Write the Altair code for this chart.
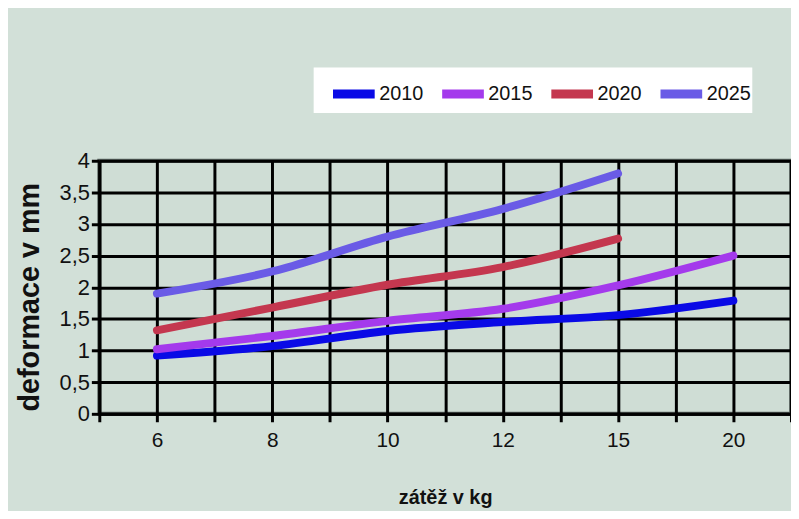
import altair as alt
import pandas as pd

categories = ["6", "8", "10", "12", "15", "20"]
years = ["2010", "2015", "2020", "2025"]
v2010 = [0.92, 1.07, 1.31, 1.45, 1.56, 1.79]
v2015 = [1.02, 1.23, 1.47, 1.66, 2.03, 2.50]
v2020 = [1.32, 1.68, 2.04, 2.32, 2.77, None]
v2025 = [1.90, 2.25, 2.80, 3.24, 3.80, None]
colors = ["#0a0ae6", "#a43aec", "#c4374f", "#6a5be6"]

rows = []
for yr, vals in zip(years, [v2010, v2015, v2020, v2025]):
    for i, (c, v) in enumerate(zip(categories, vals)):
        if v is not None:
            rows.append({"idx": i, "zatez": c, "rok": yr, "deformace": v})
df = pd.DataFrame(rows)

label_arr = "[" + ",".join("'%s'" % c for c in categories) + "]"
x_ticks = [i * 0.5 - 0.5 for i in range(2 * len(categories) + 1)]

sans = "Liberation Sans, Arial, sans-serif"

chart = alt.Chart(df).mark_line(
    strokeWidth=8, interpolate="monotone", strokeCap="round"
).encode(
    x=alt.X("idx:Q",
            scale=alt.Scale(domain=[-0.5, len(categories) - 0.5], nice=False, zero=False),
            axis=alt.Axis(values=x_ticks, title="zátěž v kg",
                          labelExpr="datum.value % 1 == 0 ? " + label_arr + "[datum.value] : ''",
                          grid=True, gridColor="#000000", gridWidth=3,
                          domainColor="#000000", domainWidth=3,
                          tickColor="#000000", tickWidth=3, tickSize=8,
                          labelFont=sans, labelFontSize=21, labelColor="#111111",
                          labelPadding=8,
                          titleFont=sans, titleFontSize=20, titleFontWeight="bold",
                          titleColor="#111111", titlePadding=37)),
    y=alt.Y("deformace:Q",
            scale=alt.Scale(domain=[0, 4], nice=False),
            axis=alt.Axis(values=[0, 0.5, 1, 1.5, 2, 2.5, 3, 3.5, 4],
                          title="deformace v mm",
                          labelExpr="replace(format(datum.value, '~g'), '.', ',')",
                          grid=True, gridColor="#000000", gridWidth=3,
                          domainColor="#000000", domainWidth=3,
                          tickColor="#000000", tickWidth=3, tickSize=8,
                          labelFont=sans,
                          labelFontSize=22, labelColor="#111111", labelPadding=2,
                          titleFont=sans,
                          titleFontSize=29, titleFontWeight="bold", titleColor="#111111",
                          titleAngle=-90, titleX=-70, titleY=137,
                          titleAlign="center", titleBaseline="middle")),
    color=alt.Color("rok:N",
                    scale=alt.Scale(domain=years, range=colors),
                    legend=alt.Legend(title=None, orient="none", direction="horizontal",
                                      legendX=216, legendY=-94,
                                      symbolType="stroke", symbolStrokeWidth=9,
                                      symbolSize=1764, symbolOffset=14,
                                      labelFont=sans, labelFontSize=20,
                                      labelColor="#111111", labelOffset=0,
                                      columnPadding=-27,
                                      fillColor="#ffffff", padding=1))
).properties(
    width=697, height=255,
    autosize=alt.AutoSizeParams(type="none"),
    padding={"left": 92, "top": 152, "right": 0, "bottom": 96},
    background="#d2e0d8"
).configure_view(
    fill="#cfddd5", stroke="#5e6864", strokeWidth=4
)

chart.save("out.html", embed_options={"renderer": "svg", "actions": False})
